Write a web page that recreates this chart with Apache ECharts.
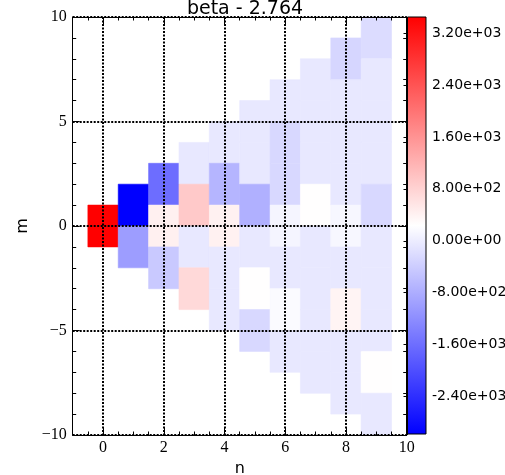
<!DOCTYPE html>
<html><head><meta charset="utf-8">
<script src="https://cdn.jsdelivr.net/npm/echarts@6/dist/echarts.min.js"></script>
<style>html,body{margin:0;padding:0;background:#fff}#c{width:505px;height:475px}</style>
</head><body><div id="c"></div>
<script>
const titleText = 'beta - 2.764';
const xName = 'n';
const yName = 'm';
const nValues = [0, 1, 2, 3, 4, 5, 6, 7, 8, 9];
// cell values per column n, listed from m = +n down to m = -n in steps of 2
const col0 = [3440];
const col1 = [-2975, -1000];
const col2 = [-1600, 420, -450];
const col3 = [-50, 920, -60, 720];
const col4 = [-60, -700, 410, -60, -60];
const col5 = [-60, -60, -760, -60, 245, -260];
const col6 = [-60, -260, -260, 110, -60, 190, -60];
const col7 = [-60, -60, -60, 250, -60, -60, -60, -60];
const col8 = [-280, -60, -60, -60, 130, -60, 380, -60, -60];
const col9 = [-200, -50, -60, -60, -260, -60, -60, -60, 250, -60];
const columns = [col0, col1, col2, col3, col4, col5, col6, col7, col8, col9];
const colorMin = -2975;
const colorMax = 3446;
const xTicks = [0, 2, 4, 6, 8, 10];
const cbTicks = [-2400, -1600, -800, 0, 800, 1600, 2400, 3200];

const cells = [];
nValues.forEach(function (n) {
  columns[n].forEach(function (v, k) { cells.push([n, n - 2 * k, v]); });
});

function fmtTick(v) { return v < 0 ? '\u2212' + (-v) : String(v); }
function fmtExp(v) {
  const parts = v.toExponential(2).split('e');
  let e = parseInt(parts[1], 10);
  const sign = e < 0 ? '-' : '+';
  e = Math.abs(e);
  return parts[0] + 'e' + sign + (e < 10 ? '0' + e : String(e));
}

const serif = 'Liberation Serif';
const sans = 'DejaVu Sans';
const dotted = { color: '#000', width: 2, type: [2, 1.5] };

const chart = echarts.init(document.getElementById('c'), null, { renderer: 'canvas' });
chart.setOption({
  animation: false,
  backgroundColor: '#fff',
  title: {
    text: titleText, left: 240, top: -5, textAlign: 'center',
    textStyle: { fontFamily: sans, fontSize: 19, fontWeight: 'normal', color: '#000' }
  },
  grid: [
    { left: 72.7, top: 17, width: 334, height: 418, containLabel: false, outerBoundsMode: 'none' },
    { left: 407.5, top: 17, width: 18.5, height: 417, containLabel: false, outerBoundsMode: 'none' }
  ],
  visualMap: {
    type: 'continuous', show: false, min: colorMin, max: colorMax, dimension: 2, seriesIndex: 0,
    inRange: { color: ['#0000ff', '#ffffff', '#ff0000'] }
  },
  xAxis: [
    {
      gridIndex: 0, type: 'value', position: 'bottom', min: -1, max: 10, z: 5,
      axisLine: { show: true, onZero: false, lineStyle: { color: '#000', width: 1 } },
      axisTick: { show: true, inside: true, length: 7, customValues: xTicks, lineStyle: { color: '#000' } },
      axisLabel: { show: true, customValues: xTicks, margin: 5, color: '#000', fontFamily: serif, fontSize: 16, formatter: fmtTick },
      splitLine: { show: true, lineStyle: dotted },
      name: xName, nameLocation: 'middle', nameGap: 23,
      nameTextStyle: { fontFamily: sans, fontSize: 16, color: '#000' }
    },
    {
      gridIndex: 0, type: 'value', position: 'top', min: -1, max: 10, z: 5,
      axisLine: { show: true, onZero: false, lineStyle: { color: '#000', width: 1 } },
      axisTick: { show: true, inside: true, length: 7, customValues: xTicks, lineStyle: { color: '#000' } },
      axisLabel: { show: false }, splitLine: { show: false }
    },
    {
      gridIndex: 0, type: 'value', position: 'bottom', min: -1, max: 10, interval: 0.5, z: 5,
      axisLine: { show: false, onZero: false },
      axisTick: { show: true, inside: true, length: 3.5, lineStyle: { color: '#000' } },
      axisLabel: { show: false }, splitLine: { show: false }
    },
    {
      gridIndex: 0, type: 'value', position: 'top', min: -1, max: 10, interval: 0.5, z: 5,
      axisLine: { show: false, onZero: false },
      axisTick: { show: true, inside: true, length: 3.5, lineStyle: { color: '#000' } },
      axisLabel: { show: false }, splitLine: { show: false }
    },
    { gridIndex: 1, type: 'value', min: 0, max: 1, show: false }
  ],
  yAxis: [
    {
      gridIndex: 0, type: 'value', position: 'left', min: -10, max: 10, interval: 5, z: 5,
      axisLine: { show: true, onZero: false, lineStyle: { color: '#000', width: 1 } },
      axisTick: { show: true, inside: true, length: 7, lineStyle: { color: '#000' } },
      minorTick: { show: true, splitNumber: 5, length: 3.5, lineStyle: { color: '#000' } },
      axisLabel: { show: true, margin: 6, color: '#000', fontFamily: serif, fontSize: 16, formatter: fmtTick },
      splitLine: { show: true, lineStyle: dotted },
      name: yName, nameLocation: 'middle', nameGap: 42, nameRotate: 90,
      nameTextStyle: { fontFamily: sans, fontSize: 16, color: '#000' }
    },
    {
      gridIndex: 0, type: 'value', position: 'right', min: -10, max: 10, interval: 5, z: 5,
      axisLine: { show: true, onZero: false, lineStyle: { color: '#000', width: 1 } },
      axisTick: { show: true, inside: true, length: 7, lineStyle: { color: '#000' } },
      minorTick: { show: true, splitNumber: 5, length: 3.5, lineStyle: { color: '#000' } },
      axisLabel: { show: false }, splitLine: { show: false }
    },
    {
      gridIndex: 1, type: 'value', position: 'right', min: colorMin, max: colorMax, z: 5,
      axisLine: { show: false },
      axisTick: { show: true, inside: true, length: 4, customValues: cbTicks, lineStyle: { color: '#000' } },
      axisLabel: { show: true, customValues: cbTicks, margin: 6, color: '#000', fontFamily: sans, fontSize: 14, formatter: fmtExp },
      splitLine: { show: false }
    }
  ],
  series: [
    {
      type: 'custom', xAxisIndex: 0, yAxisIndex: 0, z: 2,
      dimensions: ['n', 'm', 'value'],
      encode: { x: 0, y: 1 },
      data: cells,
      renderItem: function (params, api) {
        const n = api.value(0), m = api.value(1);
        const p1 = api.coord([n - 0.5, m + 1]);
        const p2 = api.coord([n + 0.5, m - 1]);
        const c = api.visual('color');
        return {
          type: 'rect',
          shape: { x: p1[0], y: p1[1], width: p2[0] - p1[0], height: p2[1] - p1[1] },
          style: { fill: c, stroke: c, lineWidth: 0.6 }
        };
      }
    },
    {
      type: 'custom', xAxisIndex: 4, yAxisIndex: 2, z: 2,
      encode: { x: 0, y: [1, 2] },
      data: [[0, colorMin, colorMax]],
      renderItem: function (params, api) {
        const p1 = api.coord([0, api.value(2)]);
        const p2 = api.coord([1, api.value(1)]);
        return {
          type: 'rect',
          shape: { x: p1[0], y: p1[1], width: p2[0] - p1[0], height: p2[1] - p1[1] },
          style: {
            fill: { type: 'linear', x: 0, y: 0, x2: 0, y2: 1, colorStops: [
              { offset: 0, color: '#ff0000' }, { offset: 0.5, color: '#ffffff' }, { offset: 1, color: '#0000ff' }
            ] },
            stroke: '#000', lineWidth: 1
          }
        };
      }
    }
  ]
});
</script>
</body></html>
